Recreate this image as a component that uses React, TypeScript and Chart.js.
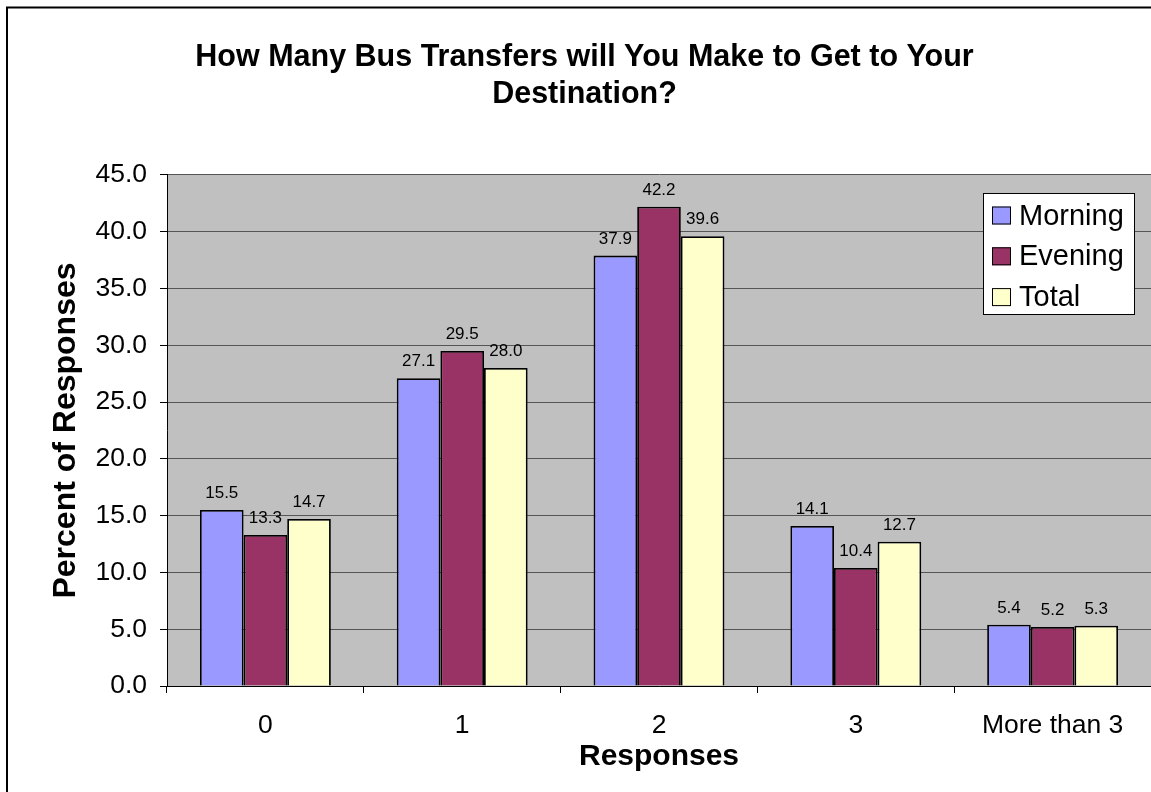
import React, { useEffect, useRef } from "react";
import { Chart, registerables } from "chart.js";

Chart.register(...registerables);

const categories = ["0", "1", "2", "3", "More than 3"];
const morning = [15.5, 27.1, 37.9, 14.1, 5.4];
const evening = [13.3, 29.5, 42.2, 10.4, 5.2];
const total = [14.7, 28.0, 39.6, 12.7, 5.3];
const seriesNames = ["Morning", "Evening", "Total"];
const titleLines = ["How Many Bus Transfers will You Make to Get to Your", "Destination?"];
const yTitle = "Percent of Responses";
const xTitle = "Responses";

const FONT = "'Liberation Sans', Arial, Helvetica, sans-serif";

const W = 1151;
const H = 792;
const PLOT_LEFT = 167;
const PLOT_BOTTOM = 686;
const PAD_LEFT = 18;

const plotBg = {
  id: "plotBg",
  beforeDraw(chart: any) {
    const { ctx, chartArea } = chart;
    ctx.save();
    ctx.fillStyle = "#ffffff";
    ctx.fillRect(0, 0, chart.width, chart.height);
    ctx.fillStyle = "#C0C0C0";
    ctx.fillRect(chartArea.left, chartArea.top, chartArea.right - chartArea.left, chartArea.bottom - chartArea.top);
    ctx.strokeStyle = "#000";
    ctx.lineWidth = 2;
    ctx.strokeRect(7, 7.5, chart.width + 10, chart.height + 10);
    ctx.restore();
  },
};

const valueLabels = {
  id: "valueLabels",
  afterDatasetsDraw(chart: any) {
    const { ctx } = chart;
    ctx.save();
    ctx.font = `17px ${FONT}`;
    ctx.fillStyle = "#000";
    ctx.textAlign = "center";
    ctx.textBaseline = "alphabetic";
    chart.data.datasets.forEach((ds: any, i: number) => {
      const meta = chart.getDatasetMeta(i);
      meta.data.forEach((el: any, j: number) => {
        const v = ds.data[j] as number;
        ctx.fillText(v.toFixed(1), el.x, el.y - 12);
      });
    });
    ctx.restore();
  },
};

const boxLegend = {
  id: "boxLegend",
  afterDraw(chart: any) {
    const { ctx } = chart;
    const x0 = 983, y0 = 193, w = 151, h = 121;
    ctx.save();
    ctx.fillStyle = "#fff";
    ctx.fillRect(x0, y0, w, h);
    ctx.strokeStyle = "#000";
    ctx.lineWidth = 1;
    ctx.strokeRect(x0 + 0.5, y0 + 0.5, w, h);
    ctx.font = `29px ${FONT}`;
    ctx.textAlign = "left";
    ctx.textBaseline = "middle";
    chart.data.datasets.forEach((ds: any, i: number) => {
      const cy = 215.5 + i * 40.8;
      ctx.fillStyle = ds.backgroundColor;
      ctx.fillRect(992, cy - 9, 19, 18);
      ctx.strokeStyle = "#000";
      ctx.lineWidth = 1;
      ctx.strokeRect(992.5, cy - 8.5, 18, 17);
      ctx.fillStyle = "#000";
      ctx.fillText(ds.label, 1019, cy + 1);
    });
    ctx.restore();
  },
};

export default function App() {
  const ref = useRef<HTMLCanvasElement | null>(null);
  useEffect(() => {
    document.body.style.margin = "0";
    const canvas = ref.current!;
    const chart = new Chart(canvas, {
      type: "bar",
      data: {
        labels: categories,
        datasets: [
          { label: seriesNames[0], data: morning, backgroundColor: "#9999FF", borderColor: "#000", borderWidth: 1.8 },
          { label: seriesNames[1], data: evening, backgroundColor: "#993366", borderColor: "#000", borderWidth: 1.8 },
          { label: seriesNames[2], data: total, backgroundColor: "#FFFFCC", borderColor: "#000", borderWidth: 1.8 },
        ],
      },
      options: {
        responsive: false,
        animation: false,
        events: [],
        layout: { padding: { left: PAD_LEFT, right: 0, top: 0, bottom: 0 } },
        datasets: { bar: { categoryPercentage: 0.665, barPercentage: 1 } },
        plugins: {
          legend: { display: false },
          tooltip: { enabled: false },
          title: {
            display: true,
            text: titleLines,
            color: "#000",
            font: { family: FONT, size: 30.5, weight: "bold", lineHeight: 1.213 },
            padding: { top: 39.5, bottom: 61.5 },
          },
        },
        scales: {
          x: {
            grid: { display: true, drawOnChartArea: false, drawTicks: true, tickLength: 7, color: "#000", offset: true },
            border: { color: "#000", width: 1 },
            ticks: { color: "#000", font: { family: FONT, size: 26.5 }, padding: 17, maxRotation: 0, autoSkip: false },
            title: {
              display: true,
              text: xTitle,
              color: "#000",
              font: { family: FONT, size: 30, weight: "bold", lineHeight: 1.2 },
              padding: { top: 0, bottom: 17 },
            },
            afterFit(scale: any) {
              scale.height = H - PLOT_BOTTOM;
            },
          },
          y: {
            min: 0,
            max: 45,
            ticks: {
              stepSize: 5,
              color: "#000",
              font: { family: FONT, size: 26.5 },
              padding: 13,
              callback: (v: any) => Number(v).toFixed(1),
            },
            grid: { color: "#555", tickColor: "#000", tickLength: 7, lineWidth: 1 },
            border: { color: "#000", width: 1 },
            title: {
              display: true,
              text: yTitle,
              color: "#000",
              font: { family: FONT, size: 32, weight: "bold", lineHeight: 1.2 },
              padding: { top: 47 - PAD_LEFT, bottom: 0 },
            },
            afterFit(scale: any) {
              scale.width = PLOT_LEFT - PAD_LEFT;
            },
          },
        },
      },
      plugins: [plotBg, valueLabels, boxLegend],
    });
    return () => chart.destroy();
  }, []);
  return (
    <div style={{ width: W, height: H, position: "relative" }}>
      <canvas ref={ref} width={W} height={H} style={{ display: "block" }} />
    </div>
  );
}
